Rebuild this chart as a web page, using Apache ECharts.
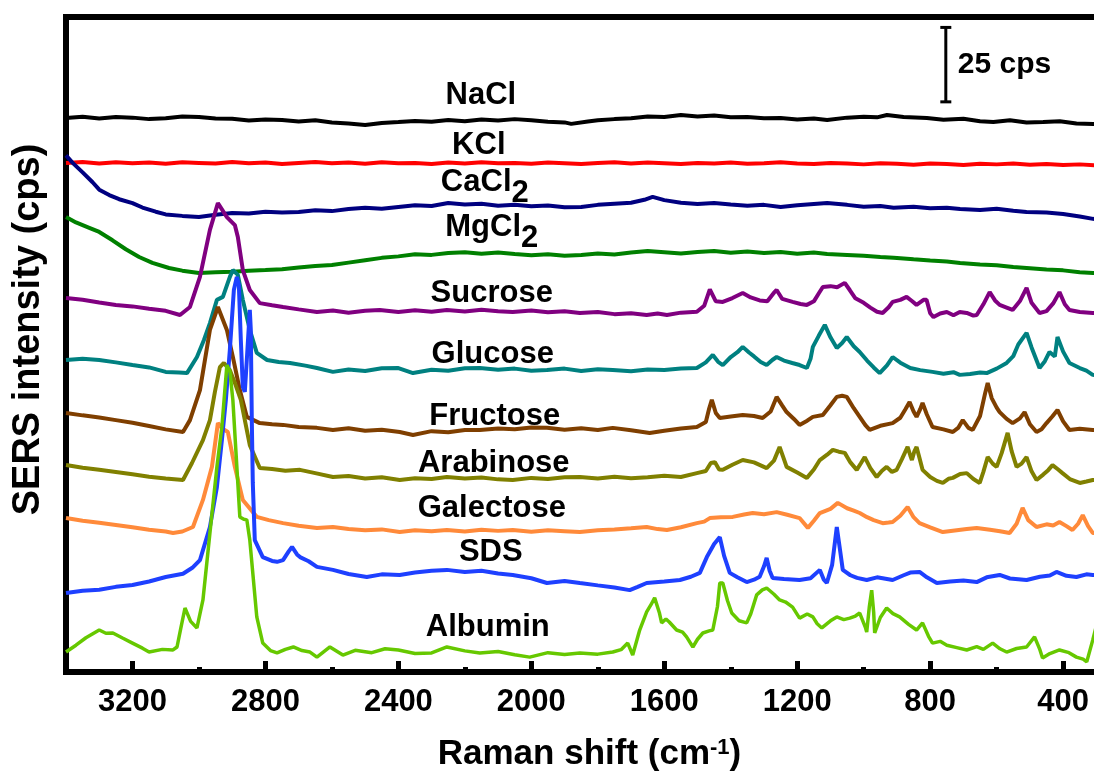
<!DOCTYPE html>
<html>
<head>
<meta charset="utf-8">
<title>SERS spectra</title>
<script src="https://cdn.jsdelivr.net/npm/echarts@6/dist/echarts.min.js"></script>
<style>
  html, body { margin: 0; padding: 0; background: #fff; }
  #chart { width: 1094px; height: 773px; }
</style>
</head>
<body>
<div id="chart"></div>
<script>
// axis ticks (Raman shift, cm-1)
const majorTicks = [3200, 2800, 2400, 2000, 1600, 1200, 800, 400];
const minorTicks = [3000, 2600, 2200, 1800, 1400, 1000, 600];

const names = ['NaCl', 'KCl', 'CaCl2', 'MgCl2', 'Sucrose', 'Glucose', 'Fructose', 'Arabinose', 'Galectose', 'SDS', 'Albumin'];

// spectra: [Raman shift, intensity in cps incl. stacking offset]
const nacl = [[3400,186.1],[3350,186.5],[3300,185.9],[3250,186.4],[3200,186.2],[3150,185.7],[3100,186.0],[3050,186.6],[3000,186.4],[2950,185.9],[2900,185.8],[2850,185.2],[2800,185.6],[2750,185.4],[2700,184.9],[2650,185.3],[2600,184.6],[2550,184.2],[2500,183.7],[2450,184.4],[2400,184.7],[2350,185.1],[2300,184.8],[2250,185.4],[2200,185.0],[2150,185.6],[2100,185.2],[2050,185.7],[2000,185.3],[1950,184.8],[1900,184.6],[1880,184.1],[1830,184.9],[1800,185.3],[1750,185.7],[1700,186.0],[1650,186.6],[1600,186.4],[1550,187.1],[1500,186.6],[1450,186.9],[1400,186.3],[1350,186.4],[1300,186.0],[1250,186.1],[1200,185.6],[1150,185.9],[1110,185.4],[1050,186.2],[1000,186.5],[960,186.3],[930,187.1],[880,186.4],[810,186.1],[760,185.5],[700,185.8],[650,185.0],[610,184.7],[560,185.3],[510,184.6],[460,184.7],[410,185.0],[360,184.2],[310,184.1],[250,184.0]];
const kcl = [[3400,171.0],[3350,171.3],[3300,170.8],[3250,171.2],[3200,170.9],[3150,171.1],[3100,170.7],[3050,171.2],[3000,171.0],[2950,170.8],[2900,171.3],[2850,170.9],[2800,171.1],[2750,170.6],[2700,171.0],[2650,171.3],[2600,170.9],[2550,171.1],[2500,170.7],[2450,171.2],[2400,170.9],[2350,171.0],[2300,170.6],[2250,171.1],[2200,170.8],[2150,171.2],[2100,170.9],[2050,171.0],[2000,170.7],[1950,171.1],[1900,170.9],[1850,170.6],[1800,171.0],[1750,171.2],[1700,170.8],[1650,171.1],[1600,170.9],[1550,170.6],[1500,171.0],[1450,170.8],[1400,171.1],[1350,170.7],[1300,170.9],[1250,171.2],[1200,170.8],[1150,170.6],[1100,171.0],[1050,170.8],[1000,170.5],[950,170.9],[900,170.7],[850,170.4],[800,170.8],[750,170.6],[700,170.3],[650,170.7],[600,170.5],[550,170.8],[500,170.4],[450,170.6],[400,170.3],[350,170.5],[300,170.2],[250,170.3]];
const cacl2 = [[3400,173.5],[3380,171.0],[3350,167.8],[3320,164.5],[3300,162.0],[3270,160.2],[3240,158.8],[3200,157.5],[3170,156.0],[3130,154.6],[3100,153.7],[3050,153.2],[3000,152.8],[2950,153.6],[2900,154.2],[2850,154.0],[2800,154.6],[2750,154.3],[2700,154.5],[2650,155.1],[2600,154.8],[2550,155.5],[2500,155.9],[2450,155.6],[2400,156.2],[2350,156.8],[2300,156.5],[2250,157.5],[2200,157.0],[2150,157.3],[2100,156.6],[2050,156.9],[2000,156.4],[1950,156.7],[1900,156.1],[1850,156.2],[1800,156.9],[1750,157.3],[1700,157.6],[1660,158.6],[1635,159.6],[1600,158.5],[1550,157.6],[1500,157.2],[1450,157.5],[1400,157.0],[1350,156.6],[1300,156.9],[1250,156.2],[1200,156.8],[1150,157.2],[1110,157.5],[1050,156.9],[1000,156.3],[950,156.5],[910,155.9],[850,156.3],[800,155.8],[750,155.9],[710,155.5],[650,155.2],[600,155.6],[550,154.9],[510,154.5],[450,154.3],[400,153.8],[350,153.0],[310,152.2],[250,152.0]];
const mgcl2 = [[3400,152.8],[3370,151.0],[3330,149.2],[3300,147.8],[3260,145.0],[3220,142.0],[3180,139.4],[3140,137.4],[3090,135.7],[3050,134.8],[3000,134.0],[2950,134.3],[2900,134.4],[2850,134.8],[2800,135.0],[2750,135.3],[2700,135.9],[2650,136.4],[2600,136.7],[2550,137.5],[2500,138.3],[2450,139.1],[2400,139.6],[2350,140.3],[2300,140.1],[2250,140.7],[2200,141.0],[2150,140.5],[2100,140.9],[2050,140.4],[2000,140.0],[1950,140.3],[1900,139.8],[1850,140.1],[1800,140.6],[1750,140.2],[1700,140.9],[1650,141.4],[1600,141.0],[1550,140.6],[1500,141.1],[1450,141.4],[1400,140.8],[1350,141.2],[1300,140.7],[1250,141.1],[1200,140.5],[1150,140.9],[1110,140.4],[1050,140.1],[1000,139.8],[950,139.4],[910,139.1],[850,138.6],[800,138.2],[750,137.9],[710,137.4],[650,136.9],[600,136.6],[550,136.0],[510,135.7],[450,135.2],[400,134.9],[350,134.3],[310,134.0],[250,133.5]];
const sucrose = [[3400,125.6],[3350,125.0],[3300,124.1],[3250,123.3],[3200,122.8],[3150,122.0],[3100,121.3],[3057,119.9],[3027,122.6],[2997,132.7],[2967,148.5],[2943,157.5],[2916,152.8],[2892,150.1],[2883,146.1],[2868,135.0],[2847,128.3],[2817,123.9],[2780,123.2],[2747,122.6],[2700,121.8],[2645,120.9],[2597,121.4],[2550,120.7],[2500,121.3],[2456,121.6],[2400,120.9],[2350,121.5],[2300,121.0],[2254,121.6],[2200,121.1],[2150,121.7],[2100,121.2],[2056,120.9],[2000,121.4],[1950,120.8],[1900,121.2],[1854,120.6],[1800,120.9],[1750,120.2],[1700,120.5],[1653,119.9],[1620,120.4],[1592,119.9],[1550,120.7],[1502,121.0],[1480,123.0],[1463,128.5],[1445,124.5],[1424,124.3],[1395,125.6],[1364,127.3],[1340,125.8],[1313,124.8],[1290,124.5],[1270,127.4],[1262,128.3],[1245,125.3],[1214,124.3],[1190,123.6],[1171,123.3],[1150,124.5],[1135,127.2],[1123,129.3],[1100,129.6],[1080,129.2],[1057,130.7],[1042,128.3],[1025,125.5],[1000,124.0],[980,122.4],[960,121.0],[943,120.6],[925,122.5],[913,124.3],[890,125.0],[871,126.0],[855,124.6],[841,123.3],[820,125.0],[811,125.0],[800,120.5],[790,119.2],[770,120.4],[750,120.9],[730,119.8],[711,120.9],[690,120.6],[670,119.7],[660,119.9],[640,123.5],[621,127.6],[605,124.8],[591,123.3],[570,122.4],[552,121.6],[530,124.6],[510,129.0],[495,124.0],[471,120.6],[450,121.2],[430,123.8],[411,127.6],[395,123.5],[381,121.6],[350,120.9],[311,120.6],[250,120.3]];
const glucose = [[3400,104.8],[3350,105.2],[3300,104.8],[3250,104.0],[3200,103.1],[3150,102.3],[3100,100.8],[3060,100.6],[3036,100.4],[3006,105.8],[2985,111.5],[2967,117.2],[2946,125.0],[2928,126.0],[2907,132.7],[2898,135.0],[2883,133.4],[2868,125.0],[2847,114.9],[2826,107.2],[2795,104.8],[2760,104.1],[2726,103.8],[2680,102.9],[2645,102.1],[2597,100.8],[2550,101.6],[2500,101.1],[2450,102.0],[2400,102.1],[2356,100.4],[2300,101.5],[2250,101.2],[2200,102.0],[2155,102.1],[2100,101.5],[2050,101.9],[2000,101.2],[1953,101.4],[1900,101.9],[1850,101.1],[1800,101.7],[1755,101.4],[1700,101.0],[1650,101.6],[1600,101.4],[1550,101.9],[1502,102.1],[1475,104.0],[1454,106.5],[1438,104.2],[1424,103.1],[1400,105.8],[1380,107.4],[1364,109.2],[1345,107.3],[1330,106.0],[1310,104.1],[1292,103.1],[1275,104.8],[1262,105.8],[1240,104.6],[1215,103.8],[1193,103.1],[1171,102.1],[1160,105.2],[1153,109.2],[1135,113.0],[1117,116.6],[1100,112.4],[1081,108.8],[1065,110.5],[1051,112.5],[1030,109.4],[1012,107.5],[990,104.6],[970,102.3],[952,100.4],[930,103.0],[913,105.8],[890,103.9],[860,102.1],[830,101.4],[793,100.8],[760,100.2],[730,100.7],[711,99.8],[680,100.1],[650,100.6],[630,100.4],[600,101.9],[570,103.8],[550,106.1],[535,110.0],[510,113.9],[495,109.0],[471,102.1],[455,104.4],[441,107.5],[425,106.0],[417,112.5],[400,107.6],[381,103.8],[350,102.1],[330,101.2],[311,99.8],[250,99.5]];
const fructose = [[3400,87.0],[3350,86.2],[3300,85.5],[3250,84.6],[3200,83.7],[3150,82.6],[3100,81.5],[3048,80.6],[3027,84.6],[2997,94.7],[2967,114.9],[2943,122.6],[2916,114.9],[2898,105.8],[2877,94.7],[2856,85.7],[2817,83.6],[2780,83.2],[2747,83.0],[2700,82.3],[2645,82.0],[2597,81.3],[2550,81.9],[2500,81.0],[2450,81.4],[2396,80.6],[2356,79.6],[2300,80.9],[2250,80.5],[2200,81.3],[2155,81.3],[2100,81.8],[2050,81.5],[2000,82.1],[1953,82.0],[1900,81.4],[1850,81.9],[1800,81.3],[1755,82.0],[1700,81.2],[1644,80.3],[1600,81.0],[1550,81.8],[1502,82.3],[1475,84.0],[1465,88.5],[1457,91.4],[1445,87.0],[1433,85.3],[1400,85.8],[1364,86.3],[1330,86.0],[1304,85.3],[1280,87.5],[1262,92.4],[1245,89.5],[1232,87.3],[1210,85.0],[1193,83.0],[1170,84.4],[1153,85.7],[1123,86.3],[1100,89.6],[1081,92.4],[1065,92.8],[1051,92.4],[1030,88.6],[1012,85.7],[995,82.9],[982,81.3],[950,82.7],[913,83.6],[890,85.4],[875,88.2],[862,90.7],[850,87.5],[841,85.7],[830,88.3],[823,90.4],[810,86.5],[793,82.3],[760,81.5],[732,80.6],[715,82.1],[702,84.6],[685,82.0],[672,81.3],[650,86.0],[635,93.5],[627,97.1],[615,92.0],[600,88.8],[591,87.3],[570,85.0],[552,83.6],[530,85.2],[516,87.3],[500,83.2],[480,80.6],[465,81.5],[450,83.6],[432,85.9],[417,88.0],[400,84.2],[381,81.3],[350,81.7],[311,81.3],[250,81.0]];
const arabinose = [[3400,69.5],[3350,68.6],[3300,67.9],[3250,67.2],[3200,66.4],[3150,65.6],[3100,65.0],[3048,64.5],[3021,70.2],[2988,77.9],[2967,84.6],[2952,94.1],[2937,102.4],[2925,103.8],[2907,101.4],[2892,97.1],[2874,91.4],[2847,76.2],[2817,68.5],[2780,68.2],[2740,67.6],[2696,67.9],[2650,66.8],[2597,65.5],[2550,65.8],[2500,65.0],[2450,65.4],[2396,64.5],[2350,65.1],[2300,64.8],[2254,65.5],[2200,65.0],[2150,65.3],[2100,64.7],[2056,64.5],[2000,65.2],[1950,64.8],[1900,65.4],[1854,65.5],[1800,65.0],[1750,65.6],[1700,65.1],[1650,65.4],[1600,65.9],[1550,65.5],[1502,66.8],[1475,67.5],[1460,70.2],[1448,70.5],[1435,68.0],[1424,67.9],[1395,69.6],[1364,71.2],[1330,70.4],[1292,68.5],[1270,71.0],[1253,75.6],[1240,71.5],[1232,68.9],[1200,67.0],[1171,65.2],[1150,68.0],[1132,71.2],[1110,73.0],[1093,74.6],[1075,74.0],[1057,73.6],[1040,70.4],[1021,67.9],[1008,70.2],[997,72.2],[980,68.5],[961,65.5],[945,67.6],[931,68.9],[915,67.2],[901,67.9],[885,71.5],[868,75.6],[860,72.8],[855,71.2],[848,74.0],[841,75.6],[832,71.8],[823,67.9],[800,65.5],[780,64.2],[762,63.5],[745,64.9],[732,65.2],[710,66.5],[690,66.8],[670,64.8],[651,63.5],[640,67.2],[627,72.2],[612,70.0],[600,68.9],[585,73.5],[567,80.3],[555,74.2],[540,68.9],[525,70.0],[510,72.2],[495,67.4],[480,64.5],[460,66.3],[445,67.8],[432,69.5],[415,68.0],[402,66.8],[380,64.8],[350,63.5],[330,64.0],[311,64.5],[250,64.0]];
const galectose = [[3400,51.7],[3350,50.8],[3300,50.1],[3250,49.4],[3200,48.6],[3150,47.8],[3100,47.2],[3078,46.7],[3050,47.2],[3018,48.7],[2988,57.8],[2961,68.9],[2943,83.6],[2930,81.8],[2913,80.6],[2892,68.9],[2868,57.8],[2826,52.1],[2790,51.0],[2747,50.0],[2700,49.1],[2645,48.4],[2597,48.7],[2550,48.0],[2500,47.6],[2450,47.9],[2396,47.0],[2350,47.6],[2300,47.3],[2254,47.7],[2200,47.2],[2150,47.8],[2100,47.4],[2056,47.7],[2000,47.1],[1950,47.6],[1900,47.3],[1854,47.0],[1800,47.6],[1750,47.9],[1700,48.3],[1653,48.7],[1620,48.0],[1592,47.7],[1550,48.6],[1502,50.0],[1480,50.5],[1463,51.7],[1430,52.0],[1394,52.1],[1360,52.9],[1334,53.4],[1300,53.0],[1262,53.7],[1230,52.8],[1193,51.7],[1168,48.4],[1150,50.8],[1132,53.4],[1100,54.8],[1078,56.8],[1050,55.0],[1030,54.2],[1012,53.4],[990,52.0],[970,51.0],[943,50.0],[925,50.2],[913,50.4],[890,52.5],[868,55.4],[850,52.0],[832,50.0],[800,48.6],[762,47.0],[720,47.6],[690,48.0],[660,48.4],[620,47.8],[590,47.3],[561,46.7],[540,49.8],[522,55.1],[505,51.0],[480,48.7],[450,49.6],[430,49.2],[411,50.4],[390,49.0],[372,47.7],[355,49.8],[341,52.7],[325,49.0],[311,46.7],[250,46.5]];
const sds = [[3400,26.5],[3350,27.3],[3300,27.6],[3250,28.6],[3200,29.2],[3150,30.4],[3100,31.9],[3048,33.0],[3020,35.0],[2997,37.6],[2967,48.7],[2946,62.1],[2931,77.9],[2919,91.4],[2907,108.2],[2895,128.3],[2886,132.7],[2880,130.0],[2874,111.5],[2868,95.7],[2862,94.1],[2856,104.8],[2847,121.6],[2844,114.9],[2841,84.6],[2838,63.5],[2832,44.3],[2808,38.6],[2780,37.3],[2765,37.0],[2747,37.6],[2730,40.5],[2720,42.0],[2705,39.5],[2696,38.6],[2670,37.2],[2645,35.3],[2597,34.3],[2550,32.9],[2495,31.9],[2450,32.8],[2396,32.6],[2350,33.4],[2300,34.0],[2254,34.3],[2200,33.6],[2150,34.0],[2100,33.1],[2056,32.6],[2000,31.5],[1953,29.9],[1900,30.6],[1854,29.9],[1800,29.1],[1750,28.4],[1704,27.5],[1680,28.6],[1653,29.9],[1600,30.4],[1553,30.9],[1520,32.0],[1493,33.3],[1472,38.6],[1450,43.0],[1433,45.3],[1420,39.0],[1403,33.3],[1380,31.8],[1352,30.2],[1330,31.0],[1313,32.0],[1300,35.5],[1292,38.3],[1283,34.0],[1274,31.6],[1240,31.2],[1193,30.9],[1160,31.5],[1132,34.3],[1120,31.0],[1111,29.9],[1095,36.0],[1081,48.7],[1070,40.0],[1063,34.3],[1040,32.5],[1020,31.6],[991,30.9],[960,31.8],[913,30.9],[880,32.5],[860,33.4],[832,33.6],[810,31.8],[780,29.9],[740,30.4],[700,30.7],[660,30.2],[630,31.8],[591,32.6],[560,31.4],[510,30.9],[470,32.0],[440,32.4],[420,33.6],[390,32.3],[360,31.9],[330,32.8],[311,32.6],[250,32.5]];
const albumin = [[3400,6.7],[3370,9.0],[3340,11.5],[3300,14.1],[3280,13.0],[3259,13.1],[3230,11.4],[3200,9.7],[3170,8.0],[3150,6.7],[3110,7.6],[3078,7.4],[3066,8.4],[3055,14.5],[3042,21.5],[3025,17.0],[3006,14.8],[2988,24.2],[2967,46.7],[2946,68.9],[2931,82.3],[2916,103.1],[2907,101.0],[2898,91.4],[2886,68.9],[2877,52.1],[2865,51.3],[2856,51.1],[2847,44.3],[2826,18.5],[2808,9.7],[2785,7.2],[2765,6.4],[2740,7.6],[2716,8.4],[2690,7.2],[2666,6.7],[2645,5.0],[2606,8.4],[2567,5.7],[2530,7.3],[2480,6.5],[2440,7.8],[2400,7.4],[2350,6.2],[2300,6.4],[2254,8.4],[2200,7.1],[2155,6.4],[2100,6.9],[2050,5.8],[2005,5.0],[1950,6.5],[1900,5.9],[1854,6.4],[1800,6.0],[1755,6.7],[1730,7.5],[1710,9.7],[1695,5.7],[1674,14.1],[1653,20.2],[1640,22.6],[1629,24.9],[1615,20.0],[1608,16.5],[1595,17.8],[1585,16.8],[1563,14.1],[1545,13.4],[1533,11.8],[1514,8.4],[1500,11.0],[1484,13.1],[1465,13.8],[1454,14.1],[1440,22.0],[1433,29.9],[1424,29.9],[1410,24.0],[1397,19.8],[1375,17.2],[1352,16.5],[1340,19.5],[1322,25.9],[1305,27.6],[1292,28.2],[1270,26.1],[1253,24.2],[1235,23.5],[1214,21.8],[1193,18.1],[1170,19.5],[1153,18.5],[1140,16.2],[1126,14.8],[1100,17.2],[1081,18.5],[1060,17.6],[1042,18.1],[1025,18.8],[1012,19.8],[995,15.0],[991,13.4],[983,22.0],[976,27.5],[970,20.0],[967,13.1],[950,18.3],[931,21.5],[912,19.6],[892,18.5],[865,16.0],[841,14.1],[823,16.5],[805,12.0],[793,9.7],[770,10.3],[750,9.0],[720,8.2],[690,7.4],[660,8.5],[640,7.6],[612,9.7],[590,7.8],[570,6.7],[540,7.9],[510,8.4],[486,11.8],[470,7.5],[462,4.7],[440,6.2],[411,7.4],[385,6.6],[360,5.0],[340,4.3],[329,3.4],[311,10.7],[300,15.5],[290,20.0]];

const spectra = [nacl, kcl, cacl2, mgcl2, sucrose, glucose, fructose, arabinose, galectose, sds, albumin];

// where each name sits (data coords)
const labelAnchors = [[2152,193.5],[2158,177.0],[2140,162.6],[2119,147.6],[2119,127.0],[2116,106.8],[2110,86.0],[2113,70.2],[2119,54.8],[2122,40.3],[2131,15.1]];

// 25 cps scale bar
const scaleBar = [[753,191.5],[753,216.5]];
const scaleBarText = '25 cps';

const colors = ['#000000', '#ff0000', '#000080', '#008000', '#800080', '#008080', '#7f3f00', '#808000', '#ff8a3a', '#1e40ff', '#66c800'];

const font = '"Liberation Sans", Arial, sans-serif';

function nameText(name) {
    const m = name.match(/^(.*Cl)2$/);
    return m ? '{m|' + m[1] + '}{s|2}' : '{m|' + name + '}';
}

const chart = echarts.init(document.getElementById('chart'));

const series = spectra.map((data, i) => ({
    name: names[i],
    type: 'line',
    data: data,
    showSymbol: false,
    symbol: 'none',
    lineStyle: { color: colors[i], width: i === 10 ? 3.5 : 4 },
    itemStyle: { color: colors[i] },
    z: 2 + i
}));

series.push({
    type: 'line',
    data: scaleBar,
    symbol: 'rect',
    symbolSize: [11, 3],
    showSymbol: true,
    lineStyle: { color: '#000', width: 3 },
    itemStyle: { color: '#000' },
    z: 20
});

series.push({
    type: 'scatter',
    symbolSize: 0,
    itemStyle: { opacity: 1 },
    data: [{ value: [scaleBar[0][0], (scaleBar[0][1] + scaleBar[1][1]) / 2], name: scaleBarText }],
    label: {
        show: true, position: 'right', distance: 12,
        formatter: p => p.name,
        fontFamily: font, fontWeight: 'bold', fontSize: 30, color: '#000'
    },
    z: 20
});

series.push({
    type: 'scatter',
    symbolSize: 0,
    itemStyle: { opacity: 1 },
    data: labelAnchors.map((p, i) => ({ value: p, name: names[i] })),
    label: {
        show: true, position: 'inside', color: '#000', opacity: 1, textBorderWidth: 0,
        formatter: p => nameText(p.name),
        rich: {
            m: { fontFamily: font, fontWeight: 'bold', fontSize: 31, color: '#000', verticalAlign: 'top' },
            s: { fontFamily: font, fontWeight: 'bold', fontSize: 31, color: '#000', verticalAlign: 'top', padding: [11, 0, 0, 0] }
        }
    },
    z: 30
});

const option = {
    animation: false,
    backgroundColor: '#ffffff',
    grid: {
        left: 66, top: 17, width: 1047, height: 655,
        outerBoundsMode: 'none',
        containLabel: false,
        show: true, borderColor: '#000', borderWidth: 6, backgroundColor: 'transparent'
    },
    xAxis: [
        {
            type: 'value', min: 250, max: 3400, inverse: true,
            position: 'bottom',
            axisLine: { show: false },
            splitLine: { show: false },
            axisTick: { show: true, inside: true, length: 11, customValues: majorTicks, lineStyle: { color: '#000', width: 5 } },
            axisLabel: {
                show: true, customValues: majorTicks, margin: 15,
                formatter: v => String(v),
                fontFamily: font, fontWeight: 'bold', fontSize: 31, color: '#000'
            },
            name: '{a|Raman shift (cm}{b|-1}{a|)}',
            nameLocation: 'middle',
            nameGap: 65,
            nameTextStyle: {
                rich: {
                    a: { fontFamily: font, fontWeight: 'bold', fontSize: 35, color: '#000', verticalAlign: 'top' },
                    b: { fontFamily: font, fontWeight: 'bold', fontSize: 22, color: '#000', verticalAlign: 'top' }
                }
            }
        },
        {
            type: 'value', min: 250, max: 3400, inverse: true,
            position: 'bottom',
            axisLine: { show: false },
            splitLine: { show: false },
            axisLabel: { show: false },
            axisTick: { show: true, inside: true, length: 5, customValues: minorTicks, lineStyle: { color: '#000', width: 5 } }
        }
    ],
    yAxis: {
        type: 'value', min: 0, max: 220,
        axisLine: { show: false },
        axisTick: { show: false },
        axisLabel: { show: false },
        splitLine: { show: false },
        name: 'SERS intensity (cps)',
        nameLocation: 'middle',
        nameGap: 18,
        nameTextStyle: { fontFamily: font, fontWeight: 'bold', fontSize: 38, color: '#000', padding: [0, 0, 0, 30] }
    },
    series: series
};

chart.setOption(option);
</script>
</body>
</html>
